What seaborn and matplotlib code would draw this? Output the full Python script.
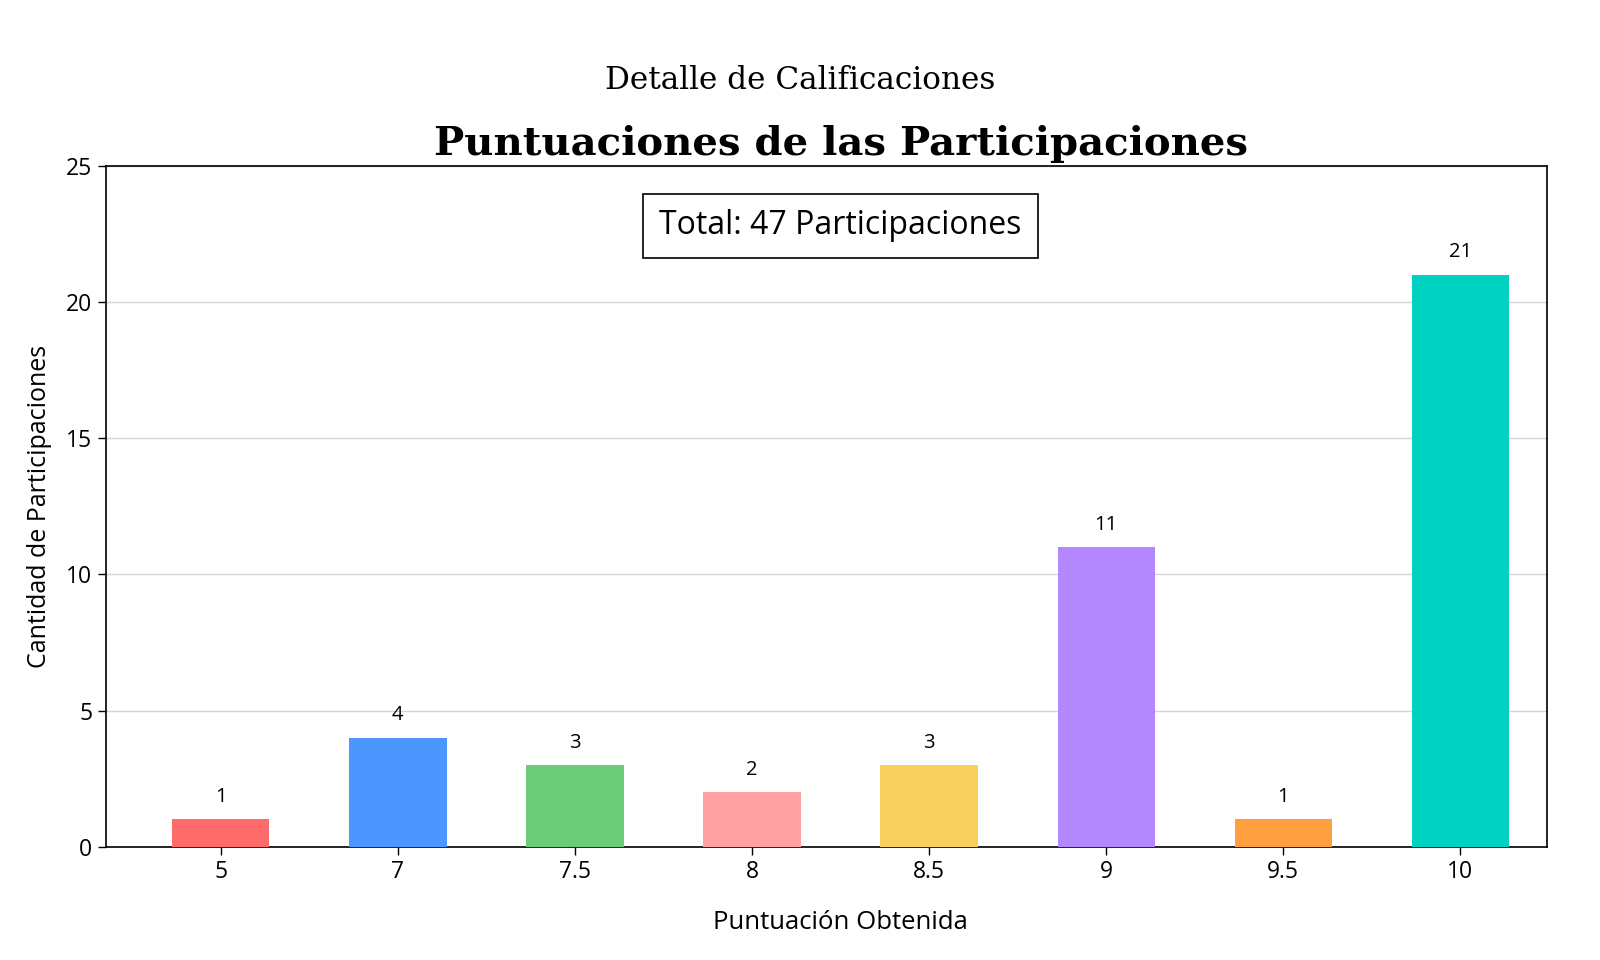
import matplotlib
matplotlib.use("Agg")
import matplotlib.pyplot as plt
import pandas as pd
import seaborn as sns

puntuaciones = ["5", "7", "7.5", "8", "8.5", "9", "9.5", "10"]
cantidades = [1, 4, 3, 2, 3, 11, 1, 21]
colores = ["#FF6B6B", "#4D96FF", "#6BCB77", "#FFA1A1", "#F7D060", "#B388FF", "#FF9F40", "#00D1C1"]
total_participaciones = 47  # as printed on the chart

sns.set_style("white")
plt.rcParams["font.family"] = ["Open Sans", "DejaVu Sans"]
plt.rcParams["text.color"] = "black"
plt.rcParams["axes.labelcolor"] = "black"
plt.rcParams["xtick.color"] = "black"
plt.rcParams["ytick.color"] = "black"

df = pd.DataFrame({"puntuacion": puntuaciones, "cantidad": cantidades})

fig = plt.figure(figsize=(16, 9.6), dpi=100)
ax = fig.add_axes([0.066, 0.118, 0.901, 0.709])

sns.barplot(data=df, x="puntuacion", y="cantidad", hue="puntuacion",
            palette=colores, width=0.55, saturation=1, linewidth=0,
            legend=False, ax=ax, zorder=3)

for c in ax.containers:
    ax.bar_label(c, padding=9, fontsize=14.5)

ax.set_xlim(-0.65, 7.49)
ax.set_ylim(0, 25)
ax.set_yticks([0, 5, 10, 15, 20, 25])
ax.yaxis.grid(True, color="#d5d5d5", linewidth=1, zorder=0)
ax.set_axisbelow(True)
for s in ax.spines.values():
    s.set_color("black")
    s.set_linewidth(1.2)
ax.tick_params(axis="both", labelsize=16.5, length=6, width=1, color="black", left=True, bottom=True)

ax.set_xlabel("Puntuación Obtenida", fontsize=18.5, labelpad=19, x=0.51)
ax.set_ylabel("Cantidad de Participaciones", fontsize=18, labelpad=10)
ax.set_title("Puntuaciones de las Participaciones", fontsize=29, fontweight="bold",
             family="DejaVu Serif", pad=8, x=0.51)
fig.suptitle("Detalle de Calificaciones", fontsize=22.4, family="DejaVu Serif", y=0.932)

ax.text(3.5, 22.8, f"Total: {total_participaciones} Participaciones",
        ha="center", va="center", fontsize=23,
        bbox=dict(boxstyle="square,pad=0.5", facecolor="white", edgecolor="black", linewidth=1.2))

fig.savefig("out.png", dpi=100)
